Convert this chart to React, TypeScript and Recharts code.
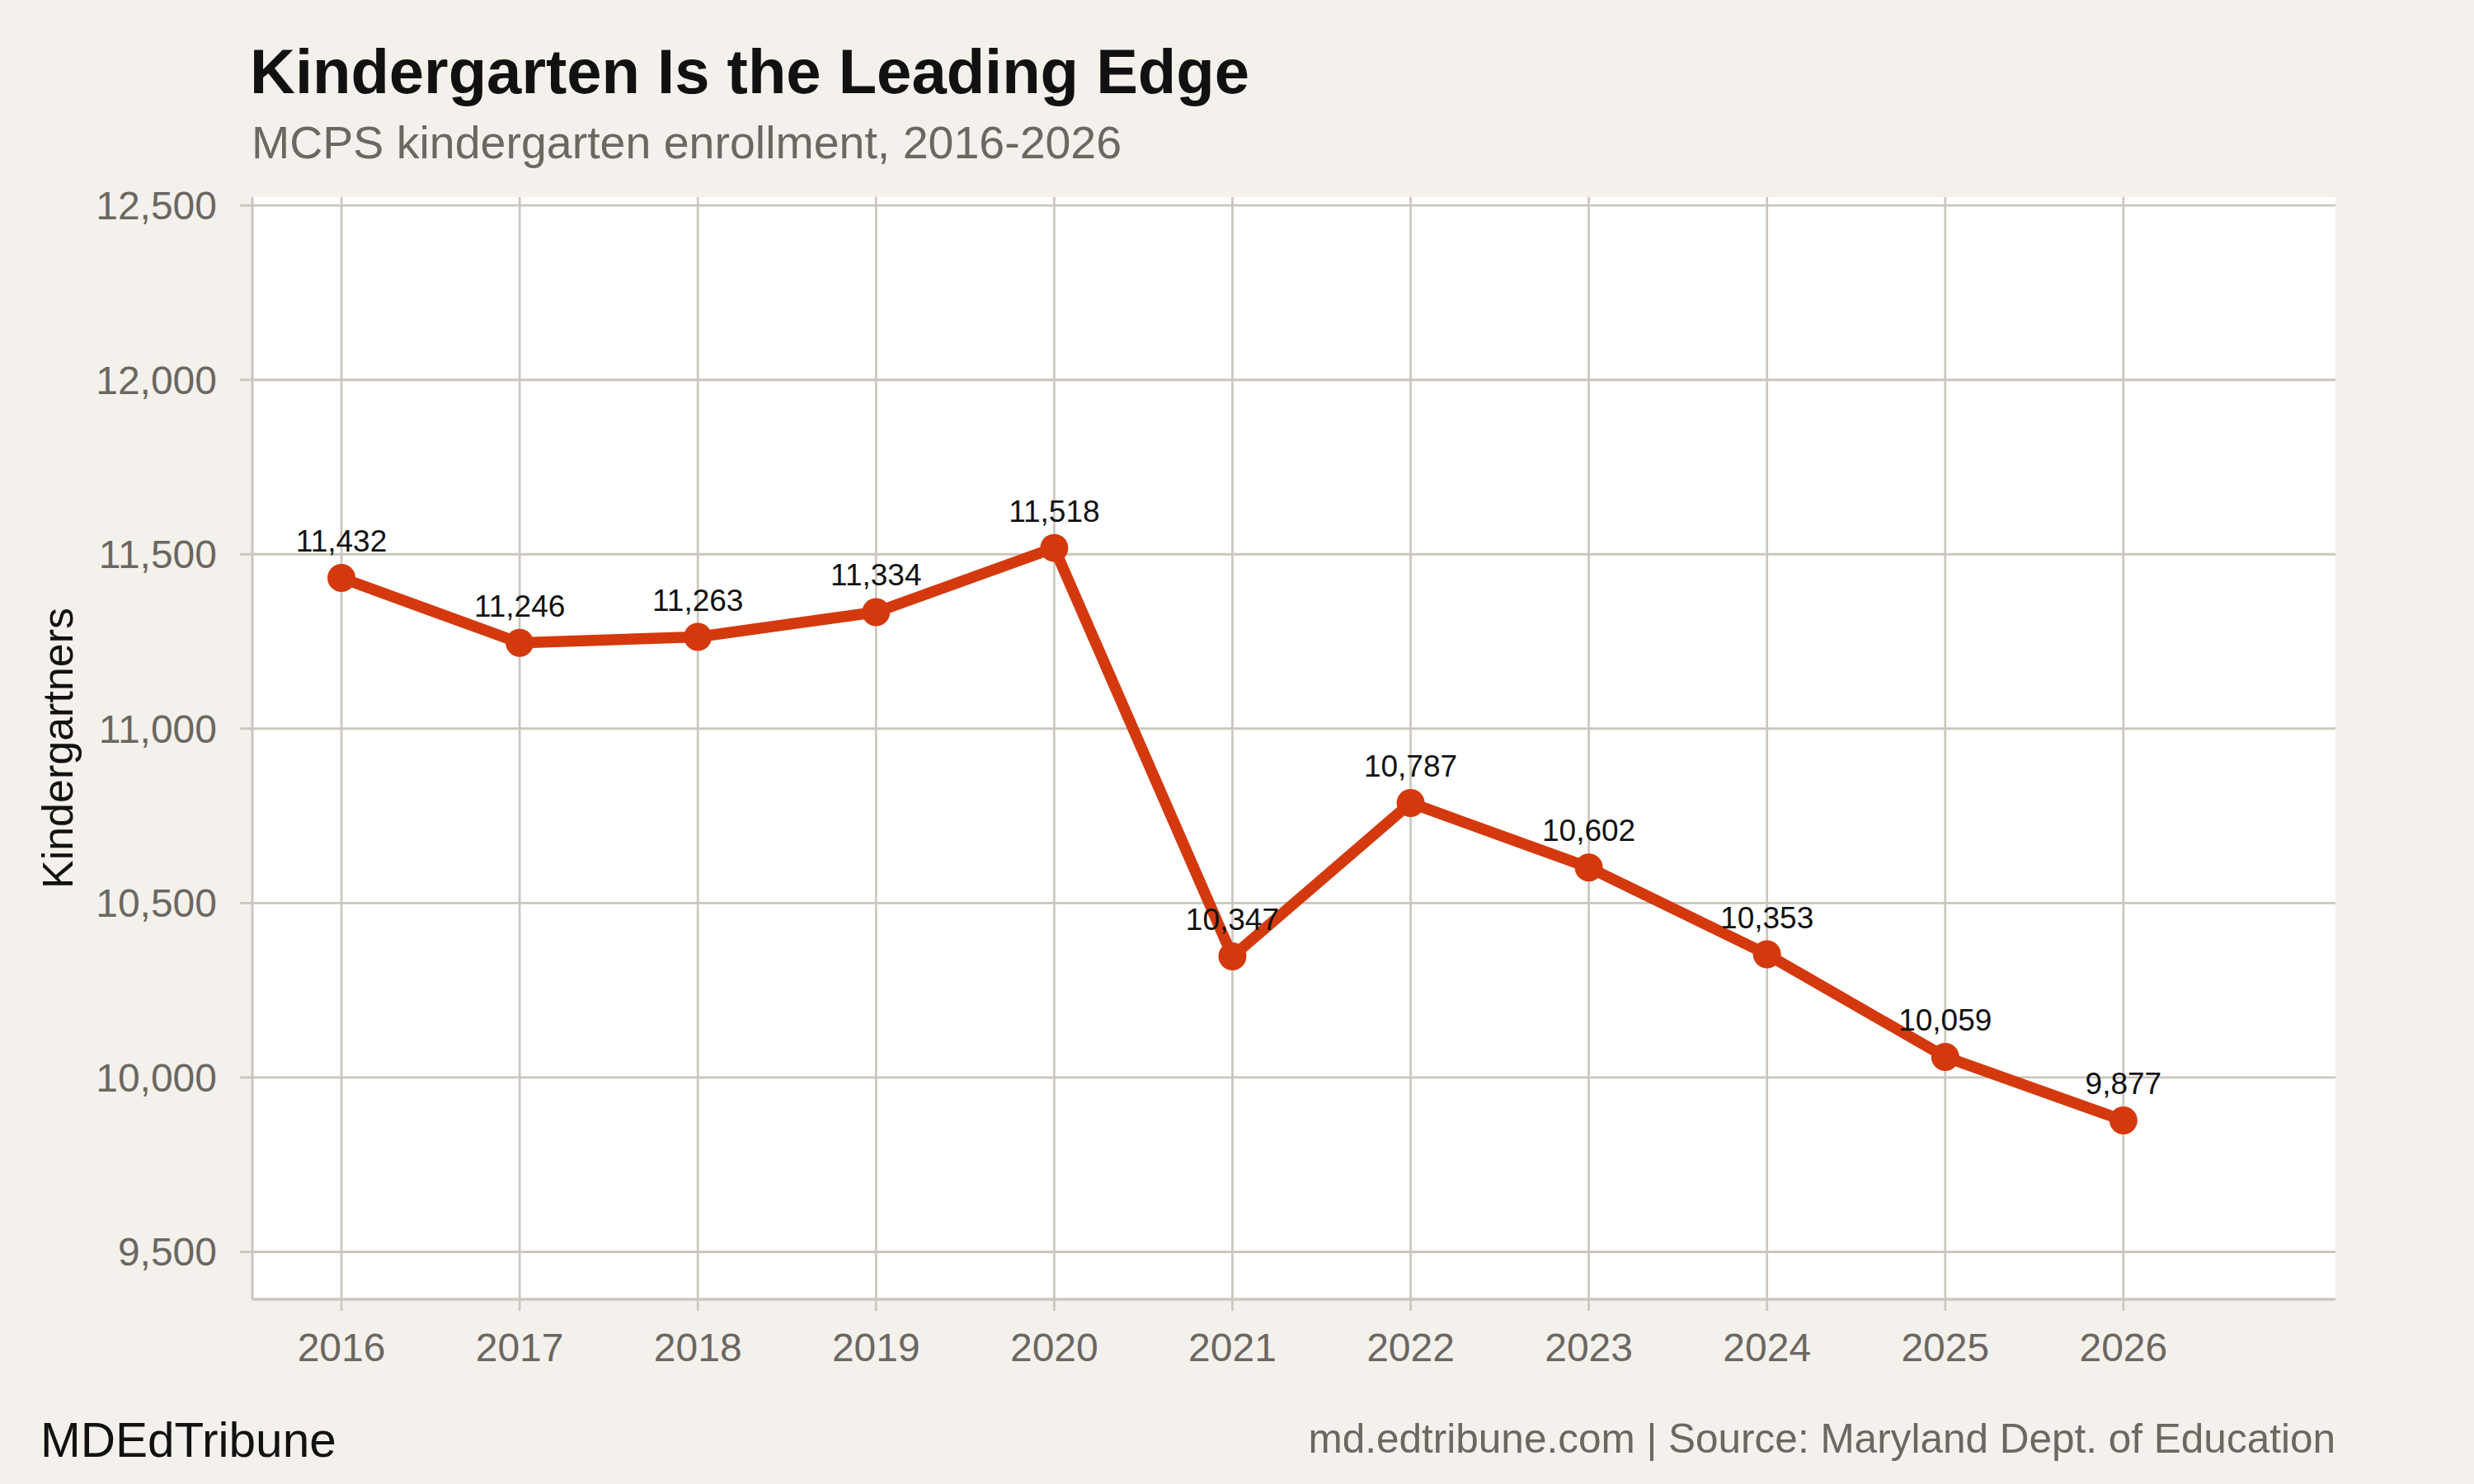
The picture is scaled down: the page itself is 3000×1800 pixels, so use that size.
import React from 'react';
import {
  LineChart,
  Line,
  XAxis,
  YAxis,
  CartesianGrid,
  LabelList,
  ReferenceLine,
} from 'recharts';

const YEARS = [2016, 2017, 2018, 2019, 2020, 2021, 2022, 2023, 2024, 2025, 2026];
const ENROLLMENT = [11432, 11246, 11263, 11334, 11518, 10347, 10787, 10602, 10353, 10059, 9877];
const Y_TICKS = [9500, 10000, 10500, 11000, 11500, 12000, 12500];
const X_TICKS = YEARS;

const TITLE = 'Kindergarten Is the Leading Edge';
const SUBTITLE = 'MCPS kindergarten enrollment, 2016-2026';
const Y_LABEL = 'Kindergartners';
const FOOTER_LEFT = 'MDEdTribune';
const FOOTER_RIGHT = 'md.edtribune.com | Source: Maryland Dept. of Education';

const data = YEARS.map((year, i) => ({ year, value: ENROLLMENT[i] }));

const FONT = '"Liberation Sans", Arial, Helvetica, sans-serif';
const BG = '#f4f1ec';
const GRID = '#cbc6be';
const GRAY = '#6b6761';
const RED = '#d4390e';
const INK = '#111111';

const fmt = (v: number) => Number(v).toLocaleString('en-US');

export default function App() {
  return (
    <div
      style={{
        position: 'absolute',
        left: 0,
        top: 0,
        width: 3000,
        height: 1800,
        background: BG,
        fontFamily: FONT,
        overflow: 'hidden',
      }}
    >
      <LineChart
        width={3000}
        height={1800}
        data={data}
        margin={{ top: 239, right: 168, bottom: 124, left: 0 }}
      >
        <CartesianGrid fill="#ffffff" horizontal={false} vertical={false} />
        {X_TICKS.map((t) => (
          <ReferenceLine key={'x' + t} x={t} stroke={GRID} strokeWidth={2.7} ifOverflow="hidden" />
        ))}
        {Y_TICKS.map((t) => (
          <ReferenceLine key={'y' + t} y={t} stroke={GRID} strokeWidth={2.9} ifOverflow="hidden" />
        ))}
        <XAxis
          dataKey="year"
          type="number"
          domain={[2015.5, 2027.19]}
          ticks={X_TICKS}
          allowDataOverflow
          height={100}
          axisLine={{ stroke: GRID, strokeWidth: 3.5 }}
          tickLine={{ stroke: GRID, strokeWidth: 2.7 }}
          tickSize={14}
          tickMargin={27}
          tick={{ fill: GRAY, fontSize: 48, fontFamily: FONT }}
          tickFormatter={(v: number) => String(v)}
        />
        <YAxis
          type="number"
          domain={[9364, 12524]}
          ticks={Y_TICKS}
          allowDataOverflow
          width={306}
          axisLine={{ stroke: GRID, strokeWidth: 3 }}
          tickLine={{ stroke: GRID, strokeWidth: 2.9 }}
          tickSize={15}
          tickMargin={28}
          tick={{ fill: GRAY, fontSize: 48, fontFamily: FONT }}
          tickFormatter={fmt}
          label={{
            value: Y_LABEL,
            angle: -90,
            position: 'insideLeft',
            offset: 70,
            style: { textAnchor: 'middle', fill: INK, fontSize: 52, fontFamily: FONT },
          }}
        />
        <Line
          type="linear"
          dataKey="value"
          stroke={RED}
          strokeWidth={13.5}
          strokeLinejoin="round"
          dot={{ r: 17, fill: RED, stroke: RED, strokeWidth: 0 }}
          activeDot={false}
          isAnimationActive={false}
        >
          <LabelList
            dataKey="value"
            position="top"
            offset={32}
            formatter={(v: number) => fmt(v)}
            style={{ fill: INK, fontSize: 37, fontFamily: FONT }}
          />
        </Line>
      </LineChart>
      <svg
        width={3000}
        height={1800}
        style={{ position: 'absolute', left: 0, top: 0, pointerEvents: 'none' }}
      >
        <text x={303} y={113} fontSize={76} fontWeight="bold" fill={INK} fontFamily={FONT}>
          {TITLE}
        </text>
        <text x={305} y={192} fontSize={55.5} fill={GRAY} fontFamily={FONT}>
          {SUBTITLE}
        </text>
        <text x={49} y={1767} fontSize={58.5} fill={INK} fontFamily={FONT}>
          {FOOTER_LEFT}
        </text>
        <text x={2832} y={1762} fontSize={49.5} fill={GRAY} textAnchor="end" fontFamily={FONT}>
          {FOOTER_RIGHT}
        </text>
      </svg>
    </div>
  );
}
